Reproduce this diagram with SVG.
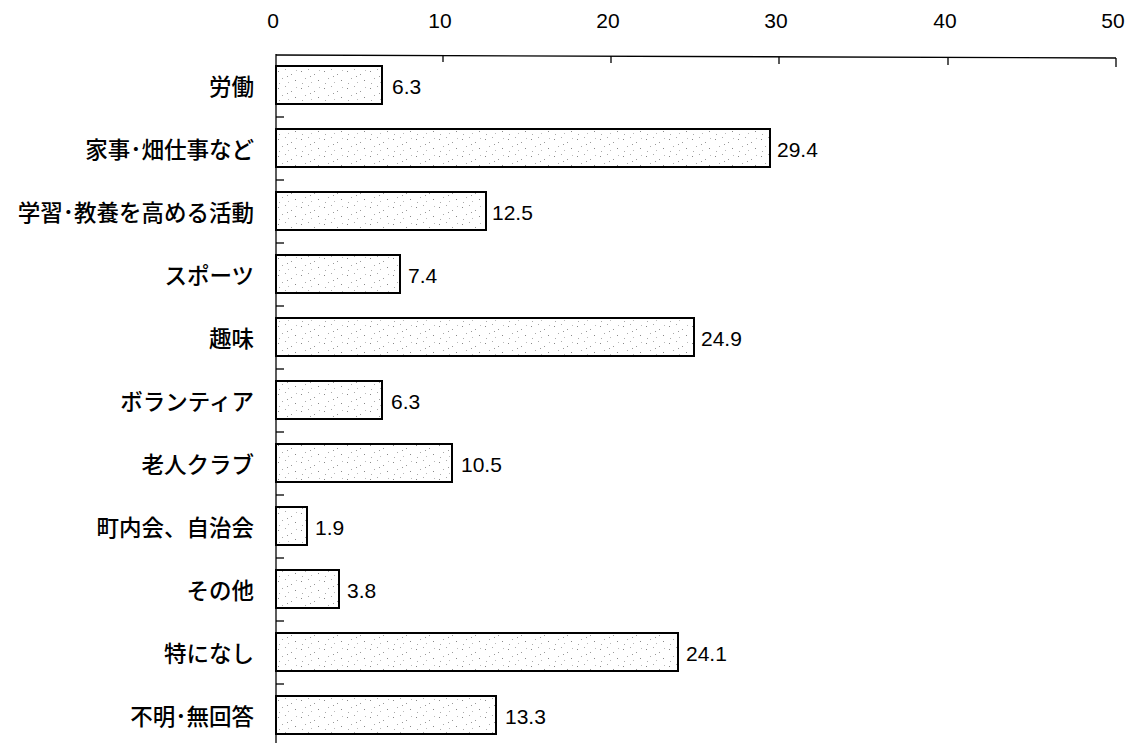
<svg xmlns="http://www.w3.org/2000/svg" width="1133" height="743" viewBox="0 0 1133 743">
<style>
.lab{font-family:"Noto Sans CJK JP","Noto Sans CJK SC",sans-serif;font-size:22.5px;font-weight:500;fill:#000;text-anchor:end;dominant-baseline:central}
.val{font-family:"Liberation Sans",Arial,sans-serif;font-size:21px;fill:#000;dominant-baseline:central}
.tick{font-family:"Liberation Sans",Arial,sans-serif;font-size:21px;fill:#000;text-anchor:middle}
.bar{fill:url(#dots);stroke:#000;stroke-width:2}
.ax{stroke:#000;stroke-width:1.3;fill:none}
</style>
<defs>
<pattern id="dots" width="23" height="17" patternUnits="userSpaceOnUse">
<rect width="23" height="17" fill="#fff"/>
<rect x="2" y="3" width="1" height="1" fill="#888"/>
<rect x="9" y="1" width="1" height="1" fill="#aaa"/>
<rect x="15" y="6" width="1" height="1" fill="#999"/>
<rect x="6" y="10" width="1" height="1" fill="#aaa"/>
<rect x="19" y="12" width="1" height="1" fill="#888"/>
<rect x="12" y="14" width="1" height="1" fill="#bbb"/>
<rect x="3" y="15" width="1" height="1" fill="#aaa"/>
<rect x="11" y="8" width="1" height="1" fill="#999"/>
<rect x="20" y="2" width="1" height="1" fill="#bbb"/>
</pattern>
</defs>
<g id="axis">
<line class="ax" x1="276" y1="55" x2="1116" y2="58"/>
<line class="ax" x1="276" y1="54" x2="276" y2="743"/>
<line class="ax" x1="443" y1="55" x2="443" y2="62"/>
<line class="ax" x1="611" y1="56" x2="611" y2="63"/>
<line class="ax" x1="779" y1="57" x2="779" y2="64"/>
<line class="ax" x1="948" y1="57" x2="948" y2="65"/>
<line class="ax" x1="1116" y1="58" x2="1116" y2="67"/>
<line class="ax" x1="276" y1="117" x2="284" y2="117"/>
<line class="ax" x1="276" y1="180" x2="284" y2="180"/>
<line class="ax" x1="276" y1="243" x2="284" y2="243"/>
<line class="ax" x1="276" y1="306" x2="284" y2="306"/>
<line class="ax" x1="276" y1="369" x2="284" y2="369"/>
<line class="ax" x1="276" y1="432" x2="284" y2="432"/>
<line class="ax" x1="276" y1="495" x2="284" y2="495"/>
<line class="ax" x1="276" y1="558" x2="284" y2="558"/>
<line class="ax" x1="276" y1="621" x2="284" y2="621"/>
<line class="ax" x1="276" y1="684" x2="284" y2="684"/>
<text class="tick" x="273" y="28">0</text>
<text class="tick" x="440" y="28">10</text>
<text class="tick" x="608" y="28">20</text>
<text class="tick" x="776" y="28">30</text>
<text class="tick" x="945" y="28">40</text>
<text class="tick" x="1113" y="28">50</text>
</g>
<g id="c1"><rect class="bar" x="276" y="66" width="106" height="38"/><text class="lab" x="254" y="85">労働</text><text class="val" x="392" y="86">6.3</text></g>
<g id="c2"><rect class="bar" x="276" y="129" width="494" height="38"/><text class="lab" x="254" y="148">家事･畑仕事など</text><text class="val" x="777" y="149">29.4</text></g>
<g id="c3"><rect class="bar" x="276" y="192" width="210" height="38"/><text class="lab" x="254" y="211">学習･教養を高める活動</text><text class="val" x="492" y="212">12.5</text></g>
<g id="c4"><rect class="bar" x="276" y="255" width="124" height="38"/><text class="lab" x="254" y="274">スポーツ</text><text class="val" x="408" y="275">7.4</text></g>
<g id="c5"><rect class="bar" x="276" y="318" width="418" height="38"/><text class="lab" x="254" y="337">趣味</text><text class="val" x="701" y="338">24.9</text></g>
<g id="c6"><rect class="bar" x="276" y="381" width="106" height="38"/><text class="lab" x="254" y="400">ボランティア</text><text class="val" x="391" y="401">6.3</text></g>
<g id="c7"><rect class="bar" x="276" y="444" width="176" height="38"/><text class="lab" x="254" y="463">老人クラブ</text><text class="val" x="461" y="464">10.5</text></g>
<g id="c8"><rect class="bar" x="276" y="507" width="31" height="38"/><text class="lab" x="254" y="526">町内会、自治会</text><text class="val" x="315" y="527">1.9</text></g>
<g id="c9"><rect class="bar" x="276" y="570" width="63" height="38"/><text class="lab" x="254" y="589">その他</text><text class="val" x="347" y="590">3.8</text></g>
<g id="c10"><rect class="bar" x="276" y="633" width="402" height="38"/><text class="lab" x="254" y="652">特になし</text><text class="val" x="686" y="653">24.1</text></g>
<g id="c11"><rect class="bar" x="276" y="696" width="220" height="38"/><text class="lab" x="254" y="715">不明･無回答</text><text class="val" x="505" y="716">13.3</text></g>
</svg>
